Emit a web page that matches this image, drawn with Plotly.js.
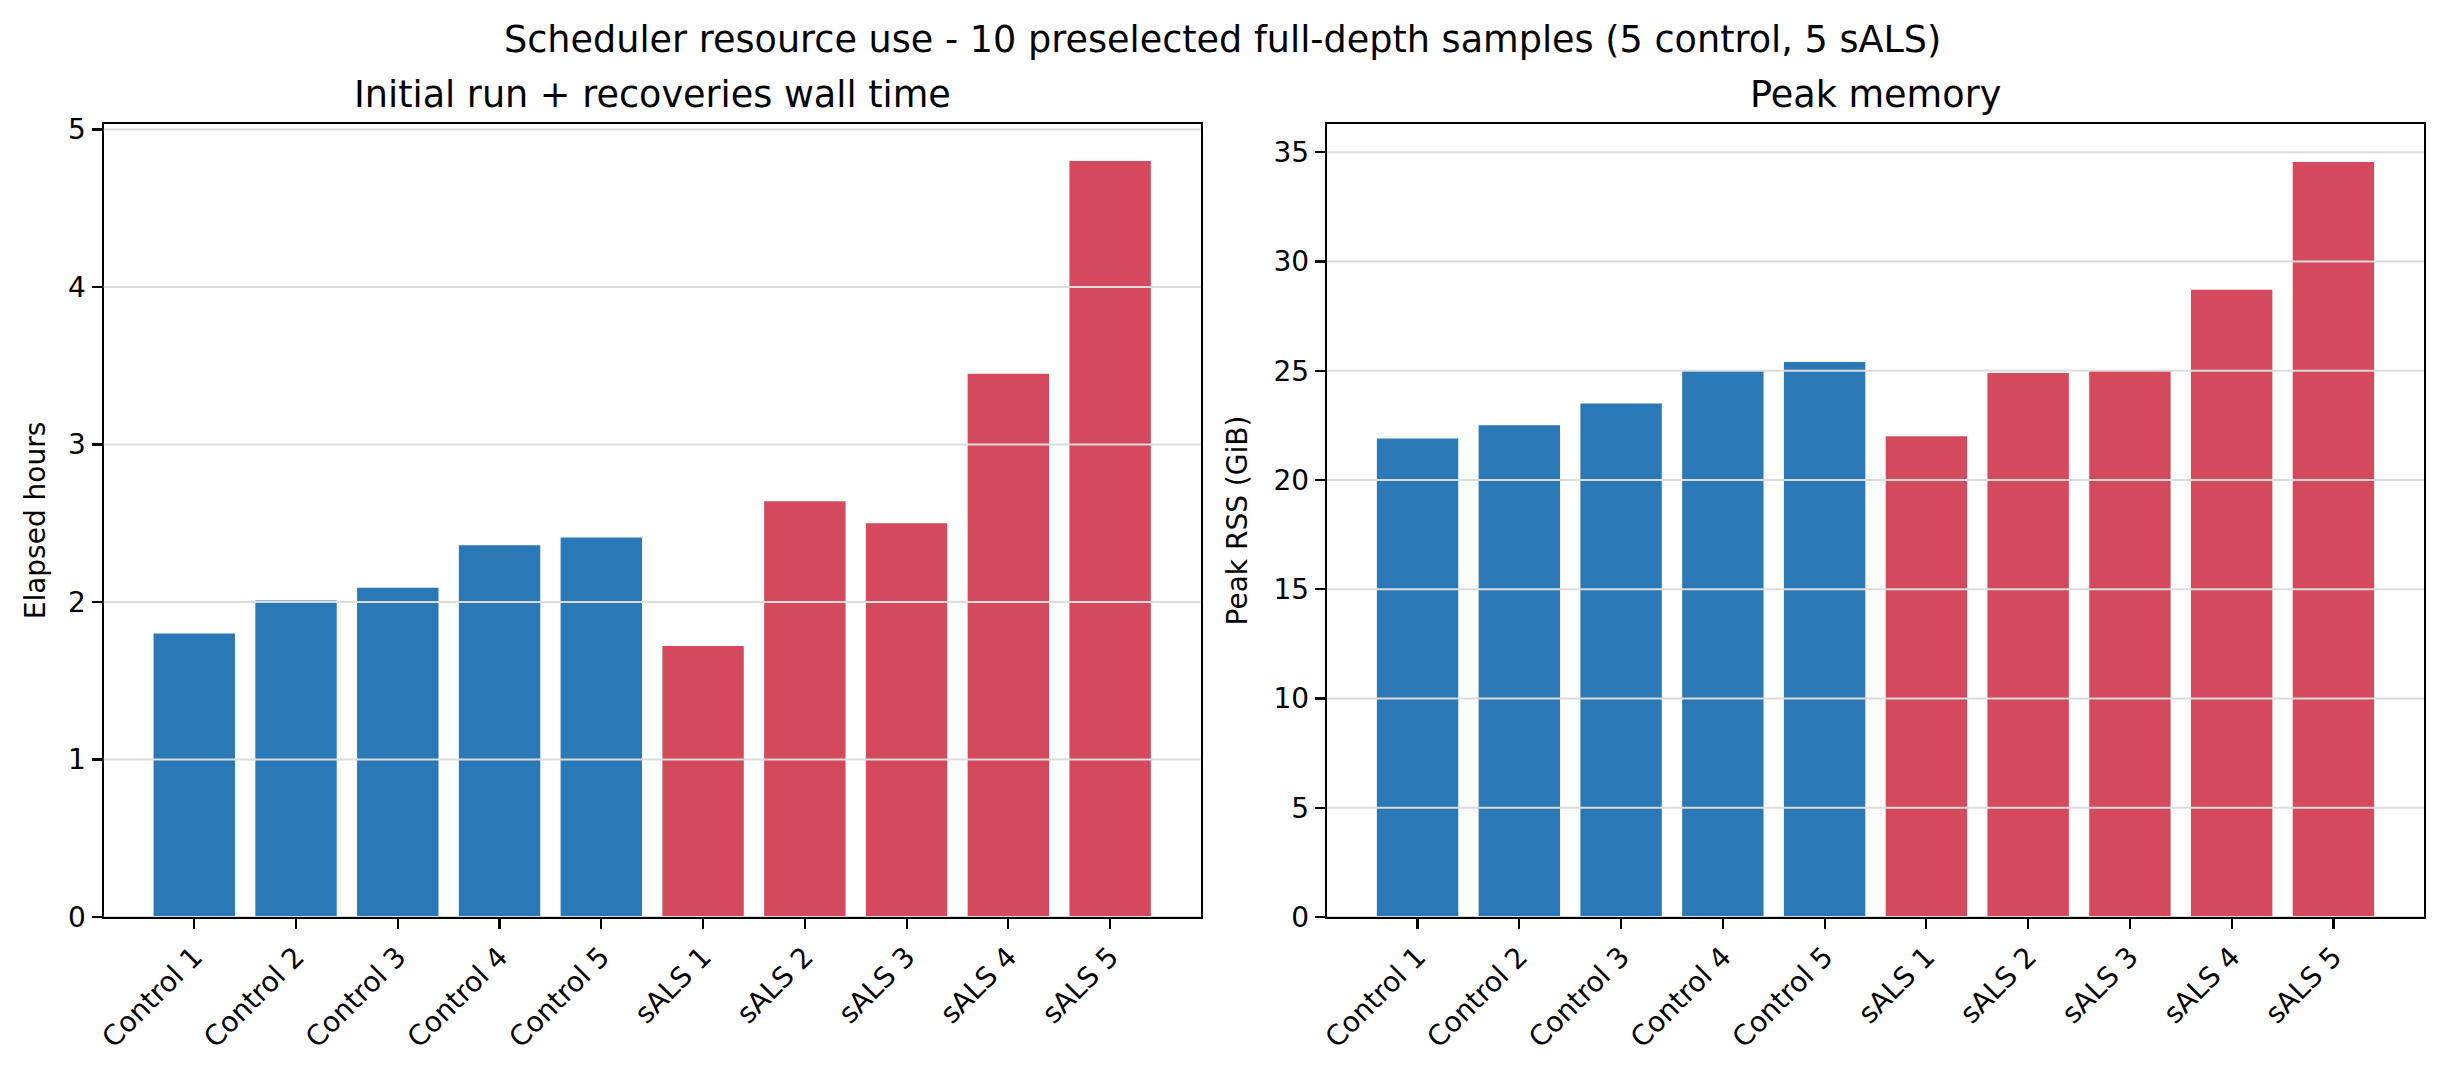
<!DOCTYPE html>
<html>
<head>
<meta charset="utf-8">
<script src="https://cdn.plot.ly/plotly-3.0.1.min.js"></script>
<style>html,body{margin:0;padding:0;background:#fff;}#chart{width:2445px;height:1081px;}</style>
</head>
<body>
<div id="chart"></div>
<script>
const samples = ["Control 1","Control 2","Control 3","Control 4","Control 5","sALS 1","sALS 2","sALS 3","sALS 4","sALS 5"];
const groups = ["control","control","control","control","control","sALS","sALS","sALS","sALS","sALS"];
const elapsedHours = [1.80, 2.01, 2.09, 2.36, 2.41, 1.72, 2.64, 2.50, 3.45, 4.80];
const peakRssGiB = [21.9, 22.5, 23.5, 25.0, 25.4, 22.0, 24.9, 25.0, 28.7, 34.55];
const hoursTicks = [0,1,2,3,4,5];
const memTicks = [0,5,10,15,20,25,30,35];
const groupColors = {control: "#2a78b5", sALS: "#d4495c"};

const barColors = groups.map(g => groupColors[g]);
const FONT = "DejaVu Sans, sans-serif";
const TITLE_SIZE = 36.6;

const traces = [
  {type:"bar", x: samples, y: elapsedHours, xaxis:"x", yaxis:"y", marker:{color: barColors, line:{width:0}}, width:0.8, showlegend:false, hoverinfo:"x+y"},
  {type:"bar", x: samples, y: peakRssGiB, xaxis:"x2", yaxis:"y2", marker:{color: barColors, line:{width:0}}, width:0.8, showlegend:false, hoverinfo:"x+y"}
];

function xAxis(domain, anchor){
  return {domain: domain, anchor: anchor, type:"category", range:[-0.89, 9.89],
    showline:true, mirror:true, linecolor:"#000", linewidth:2.2,
    ticks:"outside", ticklen:10, tickwidth:2.2, tickcolor:"#000",
    tickangle:-45, tickfont:{family:FONT, size:28, color:"#000"},
    showgrid:false, zeroline:false, fixedrange:true};
}
function yAxis(domain, anchor, range, tickvals, title, standoff){
  return {domain: domain, anchor: anchor, range: range, tickvals: tickvals,
    showline:true, mirror:true, linecolor:"#000", linewidth:2.2,
    ticks:"outside", ticklen:10, tickwidth:2.2, tickcolor:"#000",
    tickfont:{family:FONT, size:28, color:"#000"},
    showgrid:false, zeroline:false, fixedrange:true,
    title:{text:title, font:{family:FONT, size:28, color:"#000"}, standoff:standoff}};
}

const xd1 = [103.7/2445, 1200.7/2445];
const xd2 = [1327/2445, 2424/2445];
const yd = [(1081-917)/1081, (1081-124)/1081];

const shapes = [];
hoursTicks.forEach(v => shapes.push({type:"line", xref:"x domain", yref:"y", x0:0, x1:1, y0:v, y1:v, layer:"above", line:{color:"#dcdcdc", width:2}}));
memTicks.forEach(v => shapes.push({type:"line", xref:"x2 domain", yref:"y2", x0:0, x1:1, y0:v, y1:v, layer:"above", line:{color:"#dcdcdc", width:2}}));

const layout = {
  width:2445, height:1081, margin:{l:0,r:0,t:0,b:0},
  paper_bgcolor:"#fff", plot_bgcolor:"#fff",
  font:{family:FONT, color:"#000"},
  bargap:0.2,
  xaxis: xAxis(xd1, "y"),
  yaxis: yAxis(yd, "x", [0, 5.035], hoursTicks, "Elapsed hours", 14),
  xaxis2: xAxis(xd2, "y2"),
  yaxis2: yAxis(yd, "x2", [0, 36.29], memTicks, "Peak RSS (GiB)", 18),
  shapes: shapes,
  annotations: [
    {text:"Scheduler resource use - 10 preselected full-depth samples (5 control, 5 sALS)", xref:"paper", yref:"paper", x:0.5, y:1-63/1081, xanchor:"center", yanchor:"bottom", showarrow:false, font:{family:FONT, size:TITLE_SIZE, color:"#000"}},
    {text:"Initial run + recoveries wall time", xref:"paper", yref:"paper", x:(xd1[0]+xd1[1])/2, y:1-118/1081, xanchor:"center", yanchor:"bottom", showarrow:false, font:{family:FONT, size:TITLE_SIZE, color:"#000"}},
    {text:"Peak memory", xref:"paper", yref:"paper", x:(xd2[0]+xd2[1])/2, y:1-118/1081, xanchor:"center", yanchor:"bottom", showarrow:false, font:{family:FONT, size:TITLE_SIZE, color:"#000"}}
  ]
};

Plotly.newPlot("chart", traces, layout, {displayModeBar:false, staticPlot:true});
</script>
</body>
</html>
